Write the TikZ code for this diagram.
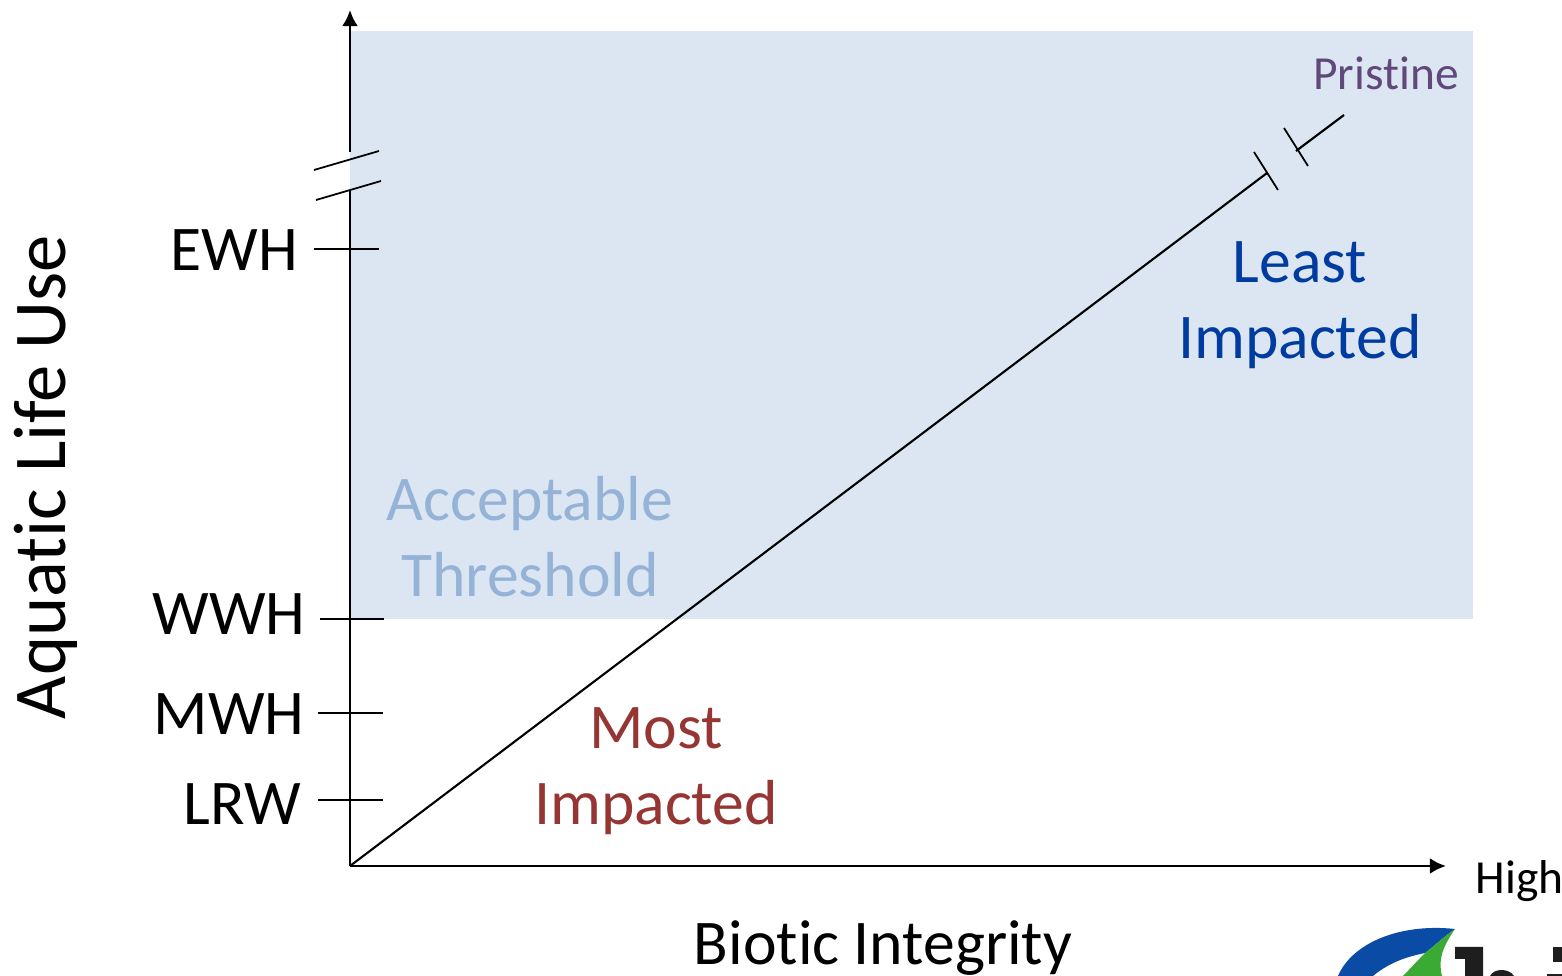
\documentclass[tikz,border=0pt]{standalone}
\usepackage{fontspec}
\setmainfont[Ligatures=NoCommon]{Carlito}
\usetikzlibrary{arrows.meta}
\definecolor{bandfill}{RGB}{220,230,242}
\definecolor{accept}{RGB}{149,179,215}
\definecolor{least}{RGB}{0,60,160}
\definecolor{most}{RGB}{150,54,52}
\definecolor{prist}{RGB}{96,73,122}
\definecolor{logoblue}{RGB}{10,76,165}
\definecolor{logogreen}{RGB}{58,170,53}
\definecolor{logodark}{RGB}{30,30,30}
\tikzset{
 axisline/.style={black,line width=0.6pt},
 axisarrow/.style={black,line width=0.85pt,-{Latex[length=4.6pt,width=4.6pt]}},
 tickmark/.style={black,line width=0.5pt},
 big/.style={font=\fontsize{18.1pt}{21.6pt}\selectfont,align=center,inner sep=0},
 axislab/.style={font=\fontsize{21.2pt}{25pt}\selectfont,inner sep=0},
 small/.style={font=\fontsize{13.5pt}{16pt}\selectfont,inner sep=0},
}
\begin{document}
\begin{tikzpicture}[x=0.01cm,y=-0.01cm]
\useasboundingbox (0,0) rectangle (1562,976);
\begin{scope}
\clip (0,0) rectangle (1562,976);
\fill[bandfill] (350,31) rectangle (1473,619);
% logo
\fill[logoblue] (1338,976) .. controls (1352,943) and (1400,923) .. (1455,929) .. controls (1440,940) and (1432,948) .. (1425,953) .. controls (1400,958) and (1385,966) .. (1373,976) -- cycle;
\fill[logogreen] (1455,929) .. controls (1442,948) and (1438,960) .. (1442,976) -- (1403,976) -- (1425,953) .. controls (1432,948) and (1440,940) .. (1455,929) -- cycle;
\fill[logodark] (1455,947) -- (1483,947) -- (1483,976) -- (1465,976) -- (1465,959) -- (1455,959) -- cycle;
\fill[logodark] (1490,976) .. controls (1494,968) and (1509,968) .. (1514,976) -- cycle;
\fill[logodark] (1553,947) rectangle (1562,962);
\fill[logodark] (1547,974) rectangle (1562,976);
\end{scope}
% axes
\coordinate (origin) at (350,866);
\coordinate (xend) at (1446,866);
\coordinate (ytop) at (350,10);
\coordinate (ybreak1) at (350,152);
\coordinate (ybreak2) at (350,190);
\coordinate (dend) at (1267,173);
\coordinate (d2a) at (1296,151);
\coordinate (d2b) at (1344,115);
\draw[axisline] (origin) -- (ybreak2);
\draw[axisarrow] (ybreak1) -- (ytop);
\draw[axisarrow] (origin) -- (xend);
\draw[axisline] (origin) -- (dend);
\draw[axisline] (d2a) -- (d2b);
\draw[tickmark] (314,170) -- (379,151);
\draw[tickmark] (316,200) -- (381,181);
\draw[tickmark] (1254,152) -- (1278,190);
\draw[tickmark] (1284,128) -- (1308,166);
\draw[tickmark] (314,249) -- (379,249);
\draw[tickmark] (320,619) -- (384,619);
\draw[tickmark] (318,713) -- (383,713);
\draw[tickmark] (318,800) -- (383,800);
% labels
\node[big,anchor=east] (ewh) at (299,250) {EWH};
\node[big,anchor=east] (wwh) at (306,614) {WWH};
\node[big,anchor=east] (mwh) at (305,714) {MWH};
\node[big,anchor=east] (lrw) at (302,804) {LRW};
\node[axislab,rotate=90] (ylab) at (46,477) {Aquatic Life Use};
\node[big] (xlab) at (883,948) {Biotic Integrity};
\node[small,anchor=west] (high) at (1475,881) {High};
\node[small,text=prist] (pris) at (1386,73) {Pristine};
\node[big,text=least] (least) at (1300,305) {Least\\Impacted};
\node[big,text=accept] (acc) at (530,537) {Acceptable\\Threshold};
\node[big,text=most] (mostn) at (656,771) {Most\\Impacted};
\end{tikzpicture}
\end{document}
